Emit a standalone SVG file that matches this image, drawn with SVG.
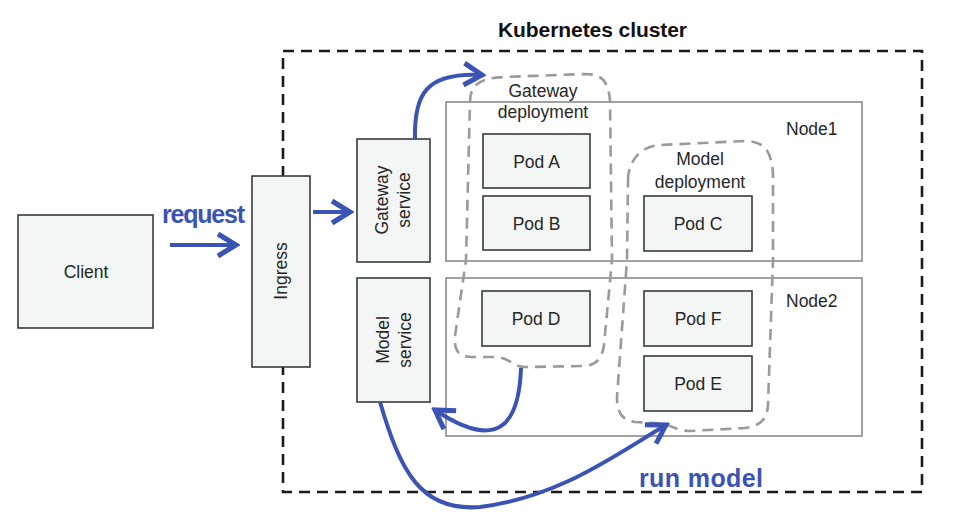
<svg xmlns="http://www.w3.org/2000/svg" width="972" height="525" viewBox="0 0 972 525">
<defs>
<style>
.box{fill:#f4f6f5;stroke:#3a3a3a;stroke-width:1.6}
.node{fill:#ffffff;stroke:#8a8a8a;stroke-width:1.6}
.blob{fill:none;stroke:#9a9a9a;stroke-width:2.6;stroke-dasharray:11 7}
.t{font-family:"Liberation Sans",Arial,sans-serif;font-size:17.5px;fill:#262626;text-anchor:middle}
.nl{font-family:"Liberation Sans",Arial,sans-serif;font-size:17.5px;fill:#262626}
.blue{font-family:"Liberation Sans",Arial,sans-serif;font-weight:bold;fill:#3b53b5}
.conn{fill:none;stroke:#3b53b5;stroke-width:4}
</style>
<marker id="chev" markerUnits="userSpaceOnUse" viewBox="-24 -16 28 32" refX="0" refY="0" markerWidth="28" markerHeight="32" orient="auto">
<path d="M-18,-11 L0,0 L-18,11" fill="none" stroke="#3b53b5" stroke-width="5" stroke-linejoin="miter"/>
</marker>
</defs>
<rect width="972" height="525" fill="#ffffff"/>

<g id="cluster">
<rect x="283" y="51" width="639" height="441" fill="none" stroke="#1a1a1a" stroke-width="2.6" stroke-dasharray="11 7"/>
<text x="592.5" y="37" font-family="Liberation Sans,Arial,sans-serif" font-weight="bold" font-size="21" fill="#111" text-anchor="middle" textLength="189">Kubernetes cluster</text>
</g>

<g id="node1">
<rect class="node" x="446" y="102" width="416" height="159"/>
<text class="nl" x="786" y="135">Node1</text>
</g>
<g id="node2">
<rect class="node" x="446" y="278" width="416" height="158"/>
<text class="nl" x="786" y="307">Node2</text>
</g>

<g id="gateway-deployment">
<path class="blob" d="M470,102 C470,84 480,78 505,77 L585,74 C603,74 608,82 610,100 L612,260 L604,345 C602,360 595,365 585,366 L525,367 C512,367 510,357 495,357 L472,357 C458,357 454,350 455,336 L466,260 Z"/>
<text class="t" x="543" y="97">Gateway</text>
<text class="t" x="543" y="118">deployment</text>
</g>

<g id="model-deployment">
<path class="blob" d="M628,180 C628,162 640,146 660,145 L745,141 C765,141 772,152 773,175 L773,260 L768,405 C767,420 760,426 745,428 L690,431 C675,431 672,424 655,423 L635,422 C620,420 617,410 617,397 L627,260 Z"/>
<text class="t" x="700" y="165">Model</text>
<text class="t" x="700" y="188">deployment</text>
</g>

<g id="client">
<rect class="box" x="18" y="215" width="135" height="113"/>
<text class="t" x="86" y="278">Client</text>
</g>

<g id="ingress">
<rect class="box" x="252" y="176" width="58" height="191"/>
<text class="t" transform="translate(287,271) rotate(-90)" x="0" y="0">Ingress</text>
</g>

<g id="gateway-service">
<rect class="box" x="357" y="139" width="73" height="123"/>
<text class="t" transform="translate(388,200) rotate(-90)">Gateway</text>
<text class="t" transform="translate(410,200) rotate(-90)">service</text>
</g>

<g id="model-service">
<rect class="box" x="357" y="278" width="73" height="124"/>
<text class="t" transform="translate(389,340) rotate(-90)">Model</text>
<text class="t" transform="translate(411,340) rotate(-90)">service</text>
</g>

<g id="pod-a"><rect class="box" x="483" y="134" width="107" height="54"/><text class="t" x="536.5" y="167.5">Pod A</text></g>
<g id="pod-b"><rect class="box" x="483" y="196" width="107" height="54"/><text class="t" x="536.5" y="229.5">Pod B</text></g>
<g id="pod-c"><rect class="box" x="644" y="196" width="108" height="55"/><text class="t" x="698" y="230">Pod C</text></g>
<g id="pod-d"><rect class="box" x="482" y="291" width="108" height="55"/><text class="t" x="536" y="325">Pod D</text></g>
<g id="pod-f"><rect class="box" x="644" y="291" width="108" height="55"/><text class="t" x="698" y="325">Pod F</text></g>
<g id="pod-e"><rect class="box" x="644" y="356" width="108" height="55"/><text class="t" x="698" y="390">Pod E</text></g>

<g id="connectors">
<path class="conn" d="M170,245 L236,245" marker-end="url(#chev)"/>
<text class="blue" x="203.5" y="223" font-size="25" text-anchor="middle" textLength="83">request</text>
<path class="conn" d="M313,212 L350,212" marker-end="url(#chev)"/>
<path class="conn" d="M415,139 C414,95 425,72 482,75" marker-end="url(#chev)"/>
<path class="conn" d="M521,368 C519,425 498,452 435,410" marker-end="url(#chev)"/>
<path class="conn" d="M380,402 C400,470 420,512 480,507 C560,497 615,455 666,425" marker-end="url(#chev)"/>
<text class="blue" x="701" y="487" font-size="25" text-anchor="middle" textLength="124">run model</text>
</g>
</svg>
